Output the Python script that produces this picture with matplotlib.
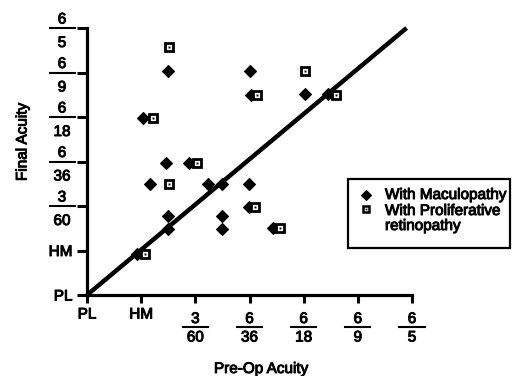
import matplotlib
matplotlib.use("Agg")
import matplotlib.pyplot as plt
import matplotlib.patheffects as pe
from matplotlib.lines import Line2D
from matplotlib.patches import Rectangle

plt.rcParams['font.family'] = ['Liberation Sans', 'DejaVu Sans']
# scanned print looks heavier than plain regular weight
bold_fx = [pe.withStroke(linewidth=0.7, foreground='black')]

# acuity scale, 0 = PL ... 6 = 6/5
x_tick_labels = ['PL', 'HM', '3/60', '6/36', '6/18', '6/9', '6/5']
y_tick_labels = ['PL', 'HM', '3/60', '6/36', '6/18', '6/9', '6/5']

# with maculopathy
x_mac = [1.5, 3.0, 3.02, 1.04, 1.46, 1.89, 1.17, 2.23, 2.49, 2.99,
         2.99, 1.49, 1.49, 2.49, 2.49, 0.92, 4.02, 4.45, 3.43]
y_mac = [5.03, 5.04, 4.49, 3.98, 2.96, 2.96, 2.5, 2.5, 2.5, 2.5,
         1.98, 1.78, 1.48, 1.78, 1.48, 0.93, 4.52, 4.52, 1.5]

# with proliferative retinopathy
x_pro = [1.52, 3.13, 1.21, 2.03, 1.51, 3.11, 1.07, 4.02, 4.6, 3.57]
y_pro = [5.57, 4.49, 3.98, 2.96, 2.49, 1.98, 0.93, 5.04, 4.49, 1.5]

# line of no change
line_x = [0, 5.9]
line_y = [0, 6.0]

W, H = 513, 376
fig = plt.figure(figsize=(W / 100, H / 100), dpi=100)
ax = fig.add_axes([87 / W, 81 / H, 325 / W, 267 / H])

ax.plot(line_x, line_y, color='black', lw=3.2, solid_capstyle='butt',
        zorder=2, clip_on=False)
ax.plot(x_mac, y_mac, 'D', color='black', ms=6.3, mew=0.8, zorder=3,
        clip_on=False)
ax.plot(x_pro, y_pro, 's', mfc='white', mec='black', ms=5.3, mew=2.0,
        zorder=4, clip_on=False)
ax.plot(x_pro, y_pro, 's', color='black', ms=1.4, mew=0, zorder=5,
        clip_on=False)

for side in ['top', 'right']:
    ax.spines[side].set_visible(False)
for side in ['left', 'bottom']:
    ax.spines[side].set_linewidth(2.3)
    ax.spines[side].set_capstyle('projecting')

ax.set_xlim(0, 6)
ax.set_ylim(0, 6)
ax.set_xticks(range(7))
ax.set_yticks(range(7))
ax.set_xticklabels([l if '/' not in l else '' for l in x_tick_labels],
                   fontsize=11)
ax.set_yticklabels([l if '/' not in l else '' for l in y_tick_labels],
                   fontsize=11)
for t in ax.get_xticklabels() + ax.get_yticklabels():
    t.set_path_effects(bold_fx)
ax.tick_params(axis='x', length=6, width=2.2, pad=3)
ax.tick_params(axis='y', length=7, width=2.2, pad=3.5)

# fraction labels
for i, lab in enumerate(x_tick_labels):
    if '/' not in lab:
        continue
    num, den = lab.split('/')
    ax.annotate(num, xy=(i, 0), xycoords=('data', 'axes fraction'),
                xytext=(0, -28), textcoords='offset pixels',
                ha='center', va='baseline', fontsize=11,
                path_effects=bold_fx)
    ax.annotate(den, xy=(i, 0), xycoords=('data', 'axes fraction'),
                xytext=(0, -46.5), textcoords='offset pixels',
                ha='center', va='baseline', fontsize=11,
                path_effects=bold_fx)
    tr = ax.get_xaxis_transform()
    off = 32 / 267
    ax.add_line(Line2D([i - 12.5 / 54, i + 12.5 / 54], [-off, -off],
                       transform=tr, color='black', lw=1.5,
                       clip_on=False))

for i, lab in enumerate(y_tick_labels):
    if '/' not in lab:
        continue
    num, den = lab.split('/')
    ax.annotate(num, xy=(0, i), xycoords=('axes fraction', 'data'),
                xytext=(-25, 4.5), textcoords='offset pixels',
                ha='center', va='baseline', fontsize=11,
                path_effects=bold_fx)
    ax.annotate(den, xy=(0, i), xycoords=('axes fraction', 'data'),
                xytext=(-25, -19), textcoords='offset pixels',
                ha='center', va='baseline', fontsize=11,
                path_effects=bold_fx)
    tr = ax.get_yaxis_transform()
    ax.add_line(Line2D([(50 - 87) / 325, (75 - 87) / 325], [i, i],
                       transform=tr, color='black', lw=1.5,
                       clip_on=False))

fig.text(261 / W, 1 - 369 / H, 'Pre-Op Acuity', ha='center', va='center',
         fontsize=11, path_effects=bold_fx)
fig.text(22.5 / W, 1 - 142 / H, 'Final Acuity', ha='center', va='center',
         rotation=90, fontsize=11, path_effects=bold_fx)

# legend box
fig.add_artist(Rectangle((348 / W, 1 - 248 / H), 162 / W, 69 / H,
                         transform=fig.transFigure, facecolor='white',
                         edgecolor='black', lw=1.6, zorder=6))
fig.add_artist(Line2D([366 / W], [1 - 195 / H], marker='D', color='black',
                      ms=5.2, mew=0.8, transform=fig.transFigure, zorder=7))
fig.add_artist(Line2D([366 / W], [1 - 209 / H], marker='s', mfc='white',
                      mec='black', ms=5, mew=1.8, transform=fig.transFigure,
                      zorder=7))
fig.add_artist(Line2D([366 / W], [1 - 209 / H], marker='s', color='black',
                      ms=1.3, mew=0, transform=fig.transFigure, zorder=8))
legend_lines = [('With Maculopathy', 199), ('With Proliferative', 215),
                ('retinopathy', 230)]
for txt, base in legend_lines:
    fig.text(385 / W, 1 - base / H, txt, ha='left', va='baseline',
             fontsize=11, zorder=8, path_effects=bold_fx)

fig.savefig('out.png', dpi=100)
